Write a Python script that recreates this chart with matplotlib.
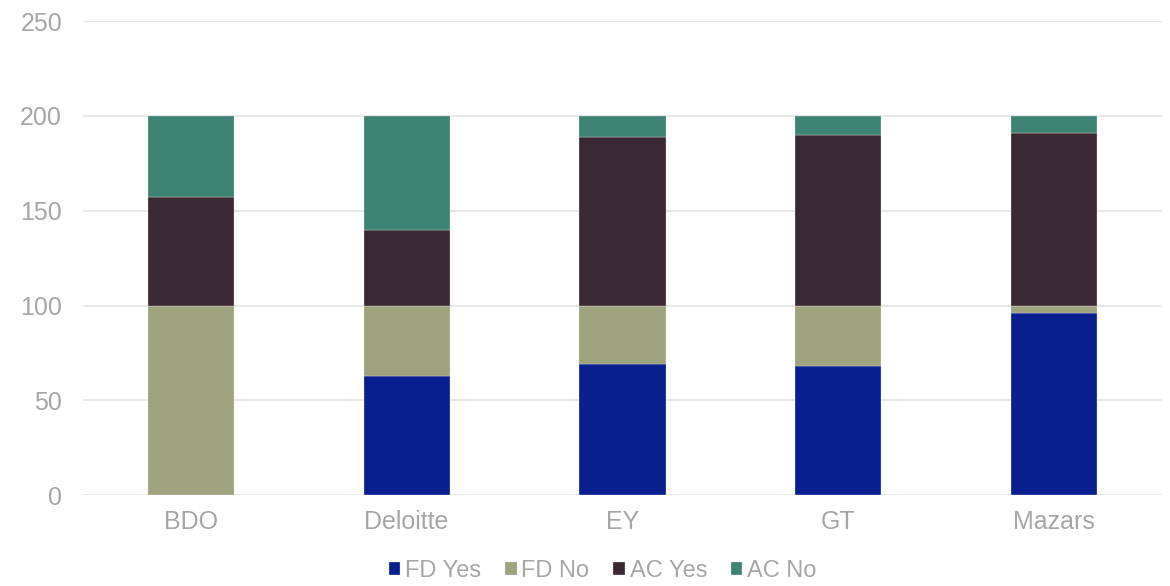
import matplotlib.pyplot as plt
import numpy as np

plt.rcParams['font.family'] = ['Liberation Sans', 'DejaVu Sans']

# data
firms = ['BDO', 'Deloitte', 'EY', 'GT', 'Mazars']
fd_yes = [0, 63, 69, 68, 96]
fd_no = [100, 37, 31, 32, 4]
ac_yes = [57, 40, 89, 90, 91]
ac_no = [43, 60, 11, 10, 9]

series = [('FD Yes', fd_yes, '#0A1F8F'),
          ('FD No', fd_no, '#9EA37E'),
          ('AC Yes', ac_yes, '#3A2832'),
          ('AC No', ac_no, '#3C8373')]

fig = plt.figure(figsize=(11.7, 5.86), dpi=100)
ax = fig.add_axes([0.0709, 0.155, 0.9223, 0.809])

x = np.arange(len(firms))
bottom = np.zeros(len(firms))
for name, vals, col in series:
    ax.bar(x, vals, width=0.4, bottom=bottom, color=col, label=name,
           edgecolor='#e0e0e0', linewidth=0.25, zorder=3)
    bottom += np.array(vals)

ax.set_xlim(-0.5, 4.5)
ax.set_ylim(0, 250)
ax.set_yticks(range(0, 251, 50))
ax.set_xticks(x)
ax.set_xticklabels(firms)
ax.grid(axis='y', color='#e8e8e8', linewidth=1.5, zorder=0)
for s in ax.spines.values():
    s.set_visible(False)
ax.tick_params(axis='both', length=0, labelsize=18, labelcolor='#a6a6a6')
ax.tick_params(axis='y', pad=15)
ax.tick_params(axis='x', pad=11)

leg = fig.legend(loc='center', bbox_to_anchor=(0.515, 0.026), ncol=4,
                 frameon=False, fontsize=17, handlelength=0.5, handleheight=0.5,
                 handletextpad=0.2, columnspacing=1.0, borderpad=0)
for t in leg.get_texts():
    t.set_color('#a6a6a6')

fig.savefig('out.png', dpi=100)
